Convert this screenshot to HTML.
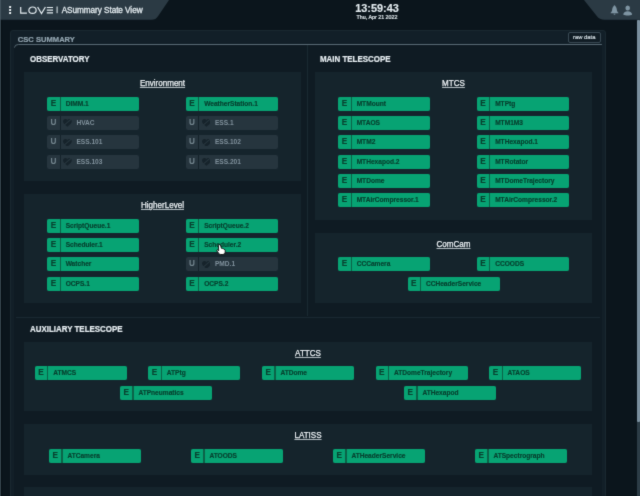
<!DOCTYPE html>
<html><head><meta charset="utf-8"><title>LOVE - ASummary State View</title>
<style>
*{box-sizing:border-box;margin:0;padding:0}
html,body{width:640px;height:496px;overflow:hidden;background:#0b151c;font-family:"Liberation Sans",sans-serif;}
#root{position:relative;width:640px;height:496px;overflow:hidden;background:#0b151c;will-change:transform;-webkit-font-smoothing:antialiased;filter:url(#soft);}
.abs{position:absolute}
#edge{position:absolute;left:0;top:0;width:2px;height:496px;background:linear-gradient(90deg,#36444d 0,#36444d 50%,#060e13 50%,#060e13 100%)}
#tabl{position:absolute;left:0;top:0}
#tabr{position:absolute;right:0;top:0}
#ttl{-webkit-text-stroke:0.3px #e3ebef;position:absolute;left:61.7px;top:5.9px;font-size:8.2px;color:#e3ebef;white-space:nowrap;line-height:10px;letter-spacing:-0.05px}
#clk{-webkit-text-stroke:0.15px #e4ecf0;position:absolute;left:327px;width:100px;top:2.9px;text-align:center;font-size:10.9px;font-weight:bold;color:#e4ecf0;line-height:11px}
#dat{-webkit-text-stroke:0.2px #e3ebef;position:absolute;left:327px;width:100px;top:13.9px;text-align:center;font-size:5.35px;color:#e3ebef;line-height:6px;font-weight:normal}
#outer{position:absolute;left:9.8px;top:30px;width:596px;height:480px;background:#121f28;border-radius:3px;border:0.8px solid #1a2830}
#inner{position:absolute;left:14.4px;top:44.4px;width:587.5px;height:470px;background:#0f1b23;border-top-left-radius:4px}
#hl{position:absolute;left:0;top:0}
#csc{-webkit-text-stroke:0.2px #93a5b0;position:absolute;left:17.8px;top:34.6px;font-size:7.6px;font-weight:bold;color:#93a5b0;line-height:10px;white-space:nowrap}
#raw{-webkit-text-stroke:0.2px #d3dde3;position:absolute;left:567.8px;top:32.2px;width:32.8px;height:10.4px;border:0.75px solid #394a54;border-radius:2px;font-size:5.85px;color:#d3dde3;text-align:center;line-height:8.6px;background:#111d25}
.sec{-webkit-text-stroke:0.2px #e8eff3;position:absolute;font-size:8.5px;transform:scaleX(0.933);transform-origin:0 0;font-weight:bold;color:#e8eff3;line-height:10px;white-space:nowrap}
.vsep{position:absolute;left:306.6px;top:45px;width:1px;height:271px;background:#1a2932}
.hsep{position:absolute;left:16px;top:317px;width:584px;height:1px;background:#1a2831}
.pn{position:absolute;background:#15242c}
.pt{-webkit-text-stroke:0.25px #f0f5f8;position:absolute;left:0;right:0;top:6.4px;text-align:center;font-size:8.8px;transform:scaleX(0.915);transform-origin:50% 0;color:#f0f5f8;text-decoration:underline;text-decoration-color:rgba(230,237,241,0.75);text-decoration-thickness:0.7px;text-underline-offset:0.9px;line-height:10px}
.it{position:absolute;width:92px;height:14px;display:flex;white-space:nowrap;background:#0b6248;border-radius:2px}
.it.u{background:#15222a}
.it .s{width:12.4px;height:14px;background:#07a373;border-radius:2px 0 0 2px;color:#08412f;font-size:8.2px;font-weight:bold;text-align:center;line-height:13.2px;display:block}
.it .n{margin-left:1.2px;flex:1;height:14px;background:#07a373;border-radius:0 2px 2px 0;color:#07402f;font-size:6.6px;line-height:14.2px;padding-left:4.8px;display:block;position:relative}
.it .n b{font-weight:bold;-webkit-text-stroke:0.15px currentColor}
.it .s{-webkit-text-stroke:0.15px currentColor}
.it.u .s,.it.u .n{background:#26353e;color:#74868f;-webkit-text-stroke:0}
.it.u .n b{-webkit-text-stroke:0}
.it.u .n{color:#80919c;padding-left:15.6px}
.hb{position:absolute;left:2.2px;top:3.3px;width:8.8px;height:7.8px}
.hb path{fill:#16232b}
.hb .sl{fill:none;stroke:#27363f;stroke-width:2.4}
#sbt{position:absolute;left:636.5px;top:20px;width:3.5px;height:476px;background:#2c3c46}
#sbh{position:absolute;left:636.5px;top:20px;width:3.5px;height:402px;background:#7a8f9e;border-radius:1px}
#cur{position:absolute;left:215.9px;top:244.4px}
</style></head><body><svg width="0" height="0" style="position:absolute"><defs><filter id="soft" x="0" y="0" width="100%" height="100%" color-interpolation-filters="sRGB"><feConvolveMatrix order="3" kernelMatrix="0.02 0.08 0.02 0.08 0.60 0.08 0.02 0.08 0.02" edgeMode="duplicate" preserveAlpha="true"/></filter></defs></svg><div id="root">
<div id="edge"></div>
<svg id="tabl" width="180" height="21" viewBox="0 0 180 21"><path d="M0 0 H169 L158 16.2 Q155.8 19.7 151.5 19.7 H0 Z" fill="#2b3a44"/><rect x="0" y="0" width="1" height="19.8" fill="#44545e"/>
<g fill="#f0f5f8"><rect x="9.1" y="6.0" width="2" height="2" rx=".5"/><rect x="9.1" y="9.05" width="2" height="2" rx=".5"/><rect x="9.1" y="12.1" width="2" height="2" rx=".5"/></g>
<g fill="none" stroke="#e6eef2" stroke-width="1.2" stroke-linecap="butt"><path d="M20.700 7 V13.200 H26.900"/><ellipse cx="32.5" cy="10.2" rx="3.65" ry="3.2"/><path d="M37.600 7 L41.500 13.500 L45.400 7"/><path d="M46.800 7.500 H53 M46.800 10.200 H53 M46.800 12.900 H53"/><path d="M57.100 6.500 V13.200" stroke-width="1"/></g></svg>
<div id="ttl">ASummary State View</div>
<div id="clk">13:59:43</div><div id="dat">Thu, Apr 21 2022</div>
<svg id="tabr" width="60" height="21" viewBox="0 0 60 21"><path d="M4 0 H60 V19.8 H24.5 Q19.5 19.8 16.8 16 Z" fill="#2b3a44"/>
<g fill="#7f95a3"><path d="M34.5 5.3 C35 5.3 35.2 5.7 35.2 6.1 C36.3 6.8 36.7 8.5 36.9 10 C37.1 11.4 37.5 12 38.4 12.7 V13.2 H30.6 V12.7 C31.5 12 31.9 11.4 32.1 10 C32.3 8.5 32.7 6.8 33.8 6.1 C33.8 5.7 34 5.3 34.5 5.3 Z M33.5 13.7 H35.5 A1 1 0 0 1 33.5 13.7 Z"/><path d="M47.7 5.600 a2.300 2.500 0 1 1 0 5 a2.300 2.500 0 1 1 0 -5z M43.300 14.800 c0-2.200 1.800-3.600 4.400-3.600 s4.400 1.400 4.400 3.600 c-1 .500-2.700.700-4.400.700 s-3.400-.2-4.400-.700z"/></g></svg>
<div id="outer"></div><div id="inner"></div><svg id="hl" width="640" height="60" viewBox="0 0 640 60"><path d="M14.5 47.6 Q14.6 44.5 18.4 44.5 H601.9" fill="none" stroke="#586974" stroke-width="1"/></svg>
<div id="csc">CSC SUMMARY</div><div id="raw">raw data</div>
<div class="sec" style="left:29.8px;top:54.4px">OBSERVATORY</div>
<div class="sec" style="left:320.4px;top:54.4px">MAIN TELESCOPE</div>
<div class="sec" style="left:29.8px;top:324.1px">AUXILIARY TELESCOPE</div>
<div class="vsep"></div><div class="hsep"></div>
<div class="pn" style="left:24px;top:72px;width:277px;height:109.25px"><div class="pt">Environment</div></div><div class="it" style="left:47.25px;top:96.75px"><span class="s">E</span><span class="n"><b>DIMM.1</b></span></div><div class="it" style="left:185.75px;top:96.75px"><span class="s">E</span><span class="n"><b>WeatherStation.1</b></span></div><div class="it u" style="left:47.25px;top:116px"><span class="s">U</span><span class="n"><svg class="hb" viewBox="2 3 20 18.5" preserveAspectRatio="none"><path d="M12 21.5 C5 15.5 2 12.5 2 8.5 C2 5.4 4.4 3 7.5 3 C9.3 3 11 3.9 12 5.2 C13 3.9 14.7 3 16.5 3 C19.6 3 22 5.4 22 8.5 C22 12.5 19 15.5 12 21.5 Z"/><path class="sl" d="M4 18 L21 3" /></svg><b>HVAC</b></span></div><div class="it u" style="left:185.75px;top:116px"><span class="s">U</span><span class="n"><svg class="hb" viewBox="2 3 20 18.5" preserveAspectRatio="none"><path d="M12 21.5 C5 15.5 2 12.5 2 8.5 C2 5.4 4.4 3 7.5 3 C9.3 3 11 3.9 12 5.2 C13 3.9 14.7 3 16.5 3 C19.6 3 22 5.4 22 8.5 C22 12.5 19 15.5 12 21.5 Z"/><path class="sl" d="M4 18 L21 3" /></svg><b>ESS.1</b></span></div><div class="it u" style="left:47.25px;top:135.25px"><span class="s">U</span><span class="n"><svg class="hb" viewBox="2 3 20 18.5" preserveAspectRatio="none"><path d="M12 21.5 C5 15.5 2 12.5 2 8.5 C2 5.4 4.4 3 7.5 3 C9.3 3 11 3.9 12 5.2 C13 3.9 14.7 3 16.5 3 C19.6 3 22 5.4 22 8.5 C22 12.5 19 15.5 12 21.5 Z"/><path class="sl" d="M4 18 L21 3" /></svg><b>ESS.101</b></span></div><div class="it u" style="left:185.75px;top:135.25px"><span class="s">U</span><span class="n"><svg class="hb" viewBox="2 3 20 18.5" preserveAspectRatio="none"><path d="M12 21.5 C5 15.5 2 12.5 2 8.5 C2 5.4 4.4 3 7.5 3 C9.3 3 11 3.9 12 5.2 C13 3.9 14.7 3 16.5 3 C19.6 3 22 5.4 22 8.5 C22 12.5 19 15.5 12 21.5 Z"/><path class="sl" d="M4 18 L21 3" /></svg><b>ESS.102</b></span></div><div class="it u" style="left:47.25px;top:154.5px"><span class="s">U</span><span class="n"><svg class="hb" viewBox="2 3 20 18.5" preserveAspectRatio="none"><path d="M12 21.5 C5 15.5 2 12.5 2 8.5 C2 5.4 4.4 3 7.5 3 C9.3 3 11 3.9 12 5.2 C13 3.9 14.7 3 16.5 3 C19.6 3 22 5.4 22 8.5 C22 12.5 19 15.5 12 21.5 Z"/><path class="sl" d="M4 18 L21 3" /></svg><b>ESS.103</b></span></div><div class="it u" style="left:185.75px;top:154.5px"><span class="s">U</span><span class="n"><svg class="hb" viewBox="2 3 20 18.5" preserveAspectRatio="none"><path d="M12 21.5 C5 15.5 2 12.5 2 8.5 C2 5.4 4.4 3 7.5 3 C9.3 3 11 3.9 12 5.2 C13 3.9 14.7 3 16.5 3 C19.6 3 22 5.4 22 8.5 C22 12.5 19 15.5 12 21.5 Z"/><path class="sl" d="M4 18 L21 3" /></svg><b>ESS.201</b></span></div>
<div class="pn" style="left:24px;top:193.75px;width:277px;height:109.35px"><div class="pt">HigherLevel</div></div><div class="it" style="left:47.25px;top:218.75px"><span class="s">E</span><span class="n"><b>ScriptQueue.1</b></span></div><div class="it" style="left:185.75px;top:218.75px"><span class="s">E</span><span class="n"><b>ScriptQueue.2</b></span></div><div class="it" style="left:47.25px;top:238px"><span class="s">E</span><span class="n"><b>Scheduler.1</b></span></div><div class="it" style="left:185.75px;top:238px"><span class="s">E</span><span class="n"><b>Scheduler.2</b></span></div><div class="it" style="left:47.25px;top:257.25px"><span class="s">E</span><span class="n"><b>Watcher</b></span></div><div class="it u" style="left:185.75px;top:257.25px"><span class="s">U</span><span class="n"><svg class="hb" viewBox="2 3 20 18.5" preserveAspectRatio="none"><path d="M12 21.5 C5 15.5 2 12.5 2 8.5 C2 5.4 4.4 3 7.5 3 C9.3 3 11 3.9 12 5.2 C13 3.9 14.7 3 16.5 3 C19.6 3 22 5.4 22 8.5 C22 12.5 19 15.5 12 21.5 Z"/><path class="sl" d="M4 18 L21 3" /></svg><b>PMD.1</b></span></div><div class="it" style="left:47.25px;top:276.5px"><span class="s">E</span><span class="n"><b>OCPS.1</b></span></div><div class="it" style="left:185.75px;top:276.5px"><span class="s">E</span><span class="n"><b>OCPS.2</b></span></div>
<div class="pn" style="left:315px;top:72px;width:277px;height:147.75px"><div class="pt">MTCS</div></div><div class="it" style="left:338.25px;top:96.75px"><span class="s">E</span><span class="n"><b>MTMount</b></span></div><div class="it" style="left:476.75px;top:96.75px"><span class="s">E</span><span class="n"><b>MTPtg</b></span></div><div class="it" style="left:338.25px;top:116px"><span class="s">E</span><span class="n"><b>MTAOS</b></span></div><div class="it" style="left:476.75px;top:116px"><span class="s">E</span><span class="n"><b>MTM1M3</b></span></div><div class="it" style="left:338.25px;top:135.25px"><span class="s">E</span><span class="n"><b>MTM2</b></span></div><div class="it" style="left:476.75px;top:135.25px"><span class="s">E</span><span class="n"><b>MTHexapod.1</b></span></div><div class="it" style="left:338.25px;top:154.5px"><span class="s">E</span><span class="n"><b>MTHexapod.2</b></span></div><div class="it" style="left:476.75px;top:154.5px"><span class="s">E</span><span class="n"><b>MTRotator</b></span></div><div class="it" style="left:338.25px;top:173.75px"><span class="s">E</span><span class="n"><b>MTDome</b></span></div><div class="it" style="left:476.75px;top:173.75px"><span class="s">E</span><span class="n"><b>MTDomeTrajectory</b></span></div><div class="it" style="left:338.25px;top:193px"><span class="s">E</span><span class="n"><b>MTAirCompressor.1</b></span></div><div class="it" style="left:476.75px;top:193px"><span class="s">E</span><span class="n"><b>MTAirCompressor.2</b></span></div>
<div class="pn" style="left:315px;top:233px;width:277px;height:70.1px"><div class="pt">ComCam</div></div><div class="it" style="left:338.25px;top:257.25px"><span class="s">E</span><span class="n"><b>CCCamera</b></span></div><div class="it" style="left:476.75px;top:257.25px"><span class="s">E</span><span class="n"><b>CCOODS</b></span></div><div class="it" style="left:407.5px;top:276.5px"><span class="s">E</span><span class="n"><b>CCHeaderService</b></span></div>
<div class="pn" style="left:24px;top:341.75px;width:568px;height:69.5px"><div class="pt">ATTCS</div></div><div class="it" style="left:34.8px;top:366.3px"><span class="s">E</span><span class="n"><b>ATMCS</b></span></div><div class="it" style="left:148.4px;top:366.3px"><span class="s">E</span><span class="n"><b>ATPtg</b></span></div><div class="it" style="left:262.0px;top:366.3px"><span class="s">E</span><span class="n"><b>ATDome</b></span></div><div class="it" style="left:375.6px;top:366.3px"><span class="s">E</span><span class="n"><b>ATDomeTrajectory</b></span></div><div class="it" style="left:489.2px;top:366.3px"><span class="s">E</span><span class="n"><b>ATAOS</b></span></div><div class="it" style="left:120px;top:385.75px"><span class="s">E</span><span class="n"><b>ATPneumatics</b></span></div><div class="it" style="left:404px;top:385.75px"><span class="s">E</span><span class="n"><b>ATHexapod</b></span></div>
<div class="pn" style="left:24px;top:424px;width:568px;height:50.5px"><div class="pt">LATISS</div></div><div class="it" style="left:49px;top:449px"><span class="s">E</span><span class="n"><b>ATCamera</b></span></div><div class="it" style="left:191px;top:449px"><span class="s">E</span><span class="n"><b>ATOODS</b></span></div><div class="it" style="left:333px;top:449px"><span class="s">E</span><span class="n"><b>ATHeaderService</b></span></div><div class="it" style="left:475px;top:449px"><span class="s">E</span><span class="n"><b>ATSpectrograph</b></span></div>
<div class="pn" style="left:24px;top:487px;width:568px;height:40px"></div>
<div id="sbt"></div><div id="sbh"></div>
<svg id="cur" width="11" height="12" viewBox="0 0 11 12"><path d="M2.400 1.300 Q3.300 0.200 4.500 1.000 L5.400 4.300 Q6.300 3.900 6.800 4.700 Q7.700 4.500 8.100 5.400 Q9.100 5.400 9.200 6.500 L9.200 8.200 Q9.000 10.500 6.900 10.500 L4.700 10.500 Q3.500 10.500 2.700 9.300 L0.900 7.000 Q0.400 5.900 1.600 5.800 L2.700 6.700 Z" fill="#fff" stroke="#050505" stroke-width="0.9" stroke-linejoin="round"/></svg>
</div></body></html>
